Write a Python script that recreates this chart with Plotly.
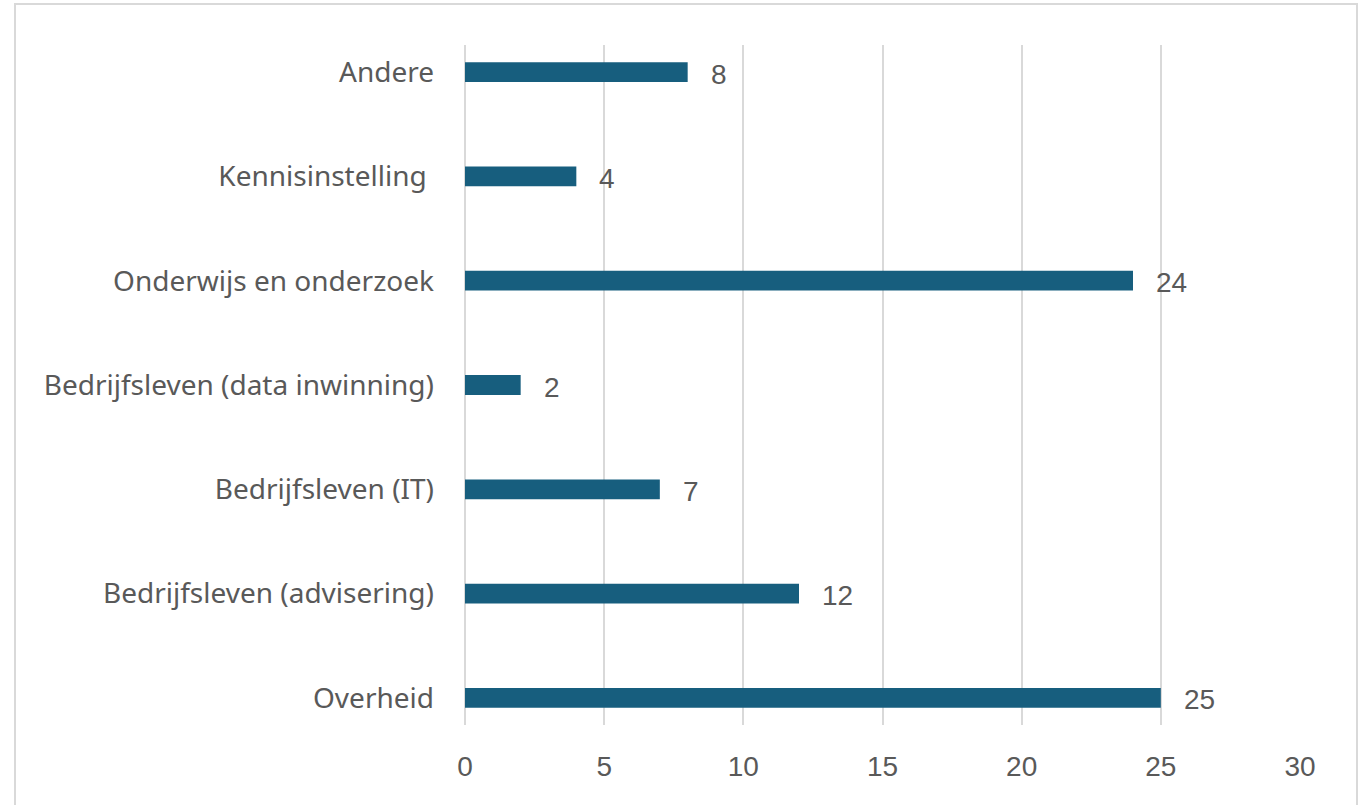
import plotly.graph_objects as go

categories = ["Overheid", "Bedrijfsleven (advisering)", "Bedrijfsleven (IT)",
              "Bedrijfsleven (data inwinning)", "Onderwijs en onderzoek",
              "Kennisinstelling ", "Andere"]
values = [25, 12, 7, 2, 24, 4, 8]
x_ticks = [0, 5, 10, 15, 20, 25, 30]

W, H = 1360, 805
L, R, T, B = 465, 60, 45, 80
pw = W - L - R
ph = H - T - B

cat_font = "'Noto Sans', 'Open Sans', sans-serif"
num_font = "'Liberation Sans', Arial, sans-serif"
text_color = "#595959"

fig = go.Figure()
fig.add_trace(go.Bar(
    y=categories, x=values, orientation="h",
    marker=dict(color="#175E7E", line=dict(width=0)),
    width=0.19,
    hoverinfo="x+y",
))

for c, v in zip(categories, values):
    fig.add_annotation(x=v, y=c, text=str(v), showarrow=False,
                       xanchor="left", yanchor="middle", xshift=21, yshift=-2,
                       font=dict(size=28, color=text_color, family=num_font))

def px_x(p):
    return (p - L) / pw
def px_y(p):
    return 1 - (p - T) / ph

fig.add_shape(type="rect", xref="paper", yref="paper",
              x0=px_x(15), x1=px_x(1357), y0=px_y(830), y1=px_y(4),
              line=dict(color="#D9D9D9", width=2), layer="below")

fig.update_layout(
    width=W, height=H,
    margin=dict(l=L, r=R, t=T, b=B, pad=0),
    paper_bgcolor="white", plot_bgcolor="white",
    showlegend=False,
    font=dict(family=num_font, color=text_color, size=28),
    xaxis=dict(range=[0, 30], tickvals=x_ticks, showgrid=True,
               gridcolor="#D9D9D9", gridwidth=1.5, zeroline=True,
               zerolinecolor="#D9D9D9", zerolinewidth=1.5,
               showline=False, ticks="", ticklabelstandoff=22,
               tickfont=dict(size=28, color=text_color, family=num_font)),
    yaxis=dict(range=[-0.26, 6.26], showgrid=False, showline=False,
               ticks="", ticklabelstandoff=30,
               tickfont=dict(size=28, color=text_color, family=cat_font)),
)
fig.write_html("out.html", config={"displayModeBar": False},
               post_script="document.body.style.margin='0';document.body.style.overflow='hidden';")
